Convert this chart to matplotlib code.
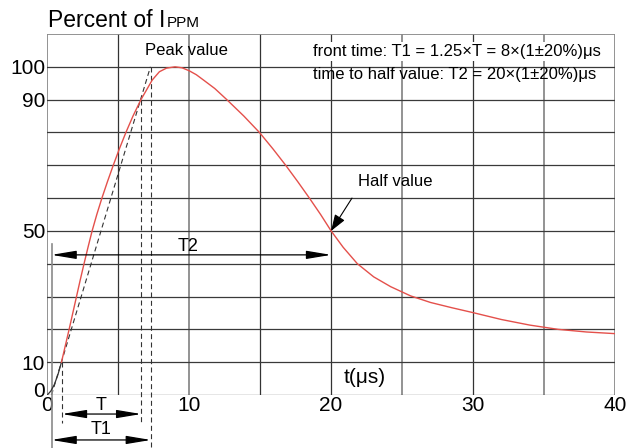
import matplotlib
matplotlib.use('Agg')
import matplotlib.pyplot as plt
from matplotlib.patches import FancyArrowPatch
from matplotlib.transforms import ScaledTranslation

plt.rcParams['font.family'] = ['Liberation Sans', 'DejaVu Sans']

# ---- data ----
t_toe = [0, 0.25, 0.5, 0.75, 1.0]
i_toe = [0, 1.2, 3.2, 6.2, 10]

t_wave = [1.0, 1.27, 1.54, 1.8, 2.06, 2.32, 2.59, 2.87, 3.16, 3.49, 3.85, 4.24,
          4.65, 5.08, 5.54, 6.04, 6.6, 7.0, 7.4, 7.9, 8.4, 9.0, 9.5, 10.0,
          10.5, 11.0, 11.8, 12.65, 13.85, 14.95, 15.9, 16.8, 17.65, 18.47, 19.26,
          20.0, 20.85, 21.85, 23.0, 24.2, 25.6, 27.0, 28.5, 30.0, 32.0, 34.0,
          36.0, 38.0, 40.0]
i_wave = [10, 15, 20, 25, 30, 35, 40, 45, 50, 55, 60, 65,
          70, 75, 80, 85, 90, 93, 96, 98.5, 99.6, 100, 99.7, 98.8,
          97.6, 96.0, 93.4, 90, 85, 80, 75, 70, 65, 60, 55,
          50, 45, 40, 36, 33, 30.2, 28.2, 26.6, 25.1, 23.0, 21.3,
          20.0, 19.2, 18.7]

# front line through 10 % and 90 % points
front_t = [0.3, 7.27]
front_i = [0, 100]

t_10, t_90, t_100 = 1.03, 6.62, 7.3   # T start, T end, T1 end
t_o1 = 0.3                            # virtual origin O1
t_half = 20.0

xticks = [0, 10, 20, 30, 40]
yticks = [0, 10, 50, 90, 100]
grid_x = [0, 5, 10, 15, 20, 25, 30, 35, 40]
grid_y = [0, 10, 20, 30, 40, 50, 60, 70, 80, 90, 100, 110]

fig = plt.figure(figsize=(6.44, 4.48), dpi=100)
ax = fig.add_axes([0.0734, 0.1183, 0.8815, 0.8058])
ax.set_xlim(0, 40)
ax.set_ylim(0, 110)

# grid
gray_x = {0, 10, 25, 35, 40}
for gx in grid_x:
    if gx in gray_x:
        ax.axvline(gx, color='#8a8a8a', lw=1.3, zorder=1)
    else:
        ax.axvline(gx, color='#333333', lw=0.9, zorder=1)
for gy in grid_y:
    if gy == 110:
        ax.axhline(gy, color='#8a8a8a', lw=1.3, zorder=1)
    else:
        ax.axhline(gy, color='#3a3a3a', lw=0.9, zorder=1)

for s in ax.spines.values():
    s.set_visible(False)

ax.set_xticks(xticks)
ax.set_xticklabels([str(v) for v in xticks])
ax.set_yticks(yticks)
ax.set_yticklabels([str(v) for v in yticks])
ax.tick_params(axis='both', length=0, labelsize=15)
ax.tick_params(axis='x', pad=1)
ax.tick_params(axis='y', pad=1.5)
for lab in ax.get_yticklabels():
    if lab.get_text() == '0':
        lab.set_transform(lab.get_transform() + ScaledTranslation(0, 4/72, fig.dpi_scale_trans))

# waveform
ax.plot(t_toe, i_toe, color='#333333', lw=0.9, zorder=3)
ax.plot(t_wave, i_wave, color='#e4504b', lw=1.0, zorder=3)

# dashed front line
dash = (0, (4.5, 3))
ax.plot(front_t, front_i, color='#333333', lw=0.8, ls=dash, zorder=2)

# vertical construction lines
ax.plot([t_10, t_10], [10, -8.5], color='#333333', lw=0.8, ls=dash, clip_on=False, zorder=2)
ax.plot([t_90, t_90], [90, -8.5], color='#333333', lw=0.8, ls=dash, clip_on=False, zorder=2)
ax.plot([t_100, t_100], [100, -16.5], color='#333333', lw=0.8, ls=dash, clip_on=False, zorder=2)
ax.plot([t_o1, t_o1], [46, -16.5], color='#8a8a8a', lw=1.2, clip_on=False, zorder=2)


def dim_arrow(x0, x1, y):
    a = FancyArrowPatch((x0, y), (x1, y),
                        arrowstyle='<|-|>,head_length=1.5,head_width=0.25',
                        mutation_scale=10, color='black', lw=0.9,
                        shrinkA=0, shrinkB=0, clip_on=False, zorder=4)
    ax.add_patch(a)


dim_arrow(t_10, t_90, -5.8)
dim_arrow(t_o1, t_100, -13.7)
dim_arrow(t_o1, t_half, 42.7)

ax.text((t_10 + t_90) / 2, -3.3, 'T', ha='center', va='center', fontsize=13, clip_on=False)
ax.text((t_o1 + t_100) / 2, -10.4, 'T1', ha='center', va='center', fontsize=13, clip_on=False)
ax.text(9.9, 45.3, 'T2', ha='center', va='center', fontsize=13)

# half value arrow
ha_arrow = FancyArrowPatch((21.47, 60), (20, 50),
                           arrowstyle='-|>,head_length=1.0,head_width=0.35',
                           mutation_scale=10, color='black', lw=0.8,
                           shrinkA=0, shrinkB=0, zorder=4)
ax.add_patch(ha_arrow)
ax.text(24.5, 65, 'Half value', ha='center', va='center', fontsize=12)

ax.text(9.8, 105, 'Peak value', ha='center', va='center', fontsize=12)

ax.text(18.75, 104.6, 'front time: T1 = 1.25\u00d7T = 8\u00d7(1\u00b120%)\u03bcs',
        ha='left', va='center', fontsize=12, zorder=5,
        bbox=dict(facecolor='white', edgecolor='none', pad=1.5))
ax.text(18.75, 97.6, 'time to half value: T2 = 20\u00d7(1\u00b120%)\u03bcs',
        ha='left', va='center', fontsize=12, zorder=5)

ax.text(20.85, 5.2, 't(\u03bcs)', ha='left', va='center', fontsize=15)

# title "Percent of I_PPM"
t1 = fig.text(48 / 644, 1 - 27 / 448, 'Percent of I', ha='left', va='baseline', fontsize=16.5)
ax.annotate('PPM', xy=(1, 0), xycoords=t1, xytext=(1, 3.6), textcoords='offset points',
            ha='left', va='baseline', fontsize=11, annotation_clip=False)

fig.savefig('out.png', dpi=100)
